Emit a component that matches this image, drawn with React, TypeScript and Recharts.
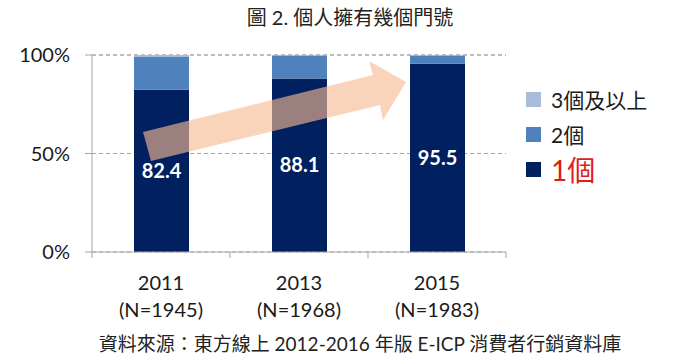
import { Bar, BarChart, CartesianGrid, LabelList, Legend, XAxis, YAxis } from "recharts";

const years = ["2011", "2013", "2015"];
const samples = ["(N=1945)", "(N=1968)", "(N=1983)"];
const oneNumber = [82.4, 88.1, 95.5];
const twoNumbers = [16.9, 11.6, 4.3];
const threePlus = [0.7, 0.3, 0.2];
const yTicks = [0, 50, 100];

const W = 700;
const H = 363;
const xAxisHeight = 60;
const margin = { top: 55, right: 24, bottom: 51, left: 0 };
const yAxisWidth = 92;
const legendWidth = 170;
const plotBottom = H - margin.bottom - xAxisHeight;
const bandWidth = (W - yAxisWidth - margin.right - legendWidth) / years.length;

const font = "Lato, 'Noto Sans CJK TC', sans-serif";
const axisColor = "#a6a6a6";
const colors = { one: "#002060", two: "#4f81bd", three: "#a9bcdb" };

const data = years.map((year, i) => ({
  year,
  n: samples[i],
  one: oneNumber[i],
  two: twoNumbers[i],
  three: threePlus[i],
}));

const legendItems = [
  { key: "three", label: "3個及以上", color: colors.three, text: "#1a1a1a", size: 21 },
  { key: "two", label: "2個", color: colors.two, text: "#1a1a1a", size: 21 },
  { key: "one", label: "1個", color: colors.one, text: "#e31b1b", size: 28 },
];

function YearTick(props: any) {
  const { x, index, payload } = props;
  const i = index ?? years.indexOf(payload.value);
  const left = x - bandWidth / 2;
  return (
    <g>
      <line x1={left} x2={left} y1={plotBottom} y2={plotBottom + 6} stroke={axisColor} />
      {i === years.length - 1 && (
        <line x1={x + bandWidth / 2} x2={x + bandWidth / 2} y1={plotBottom} y2={plotBottom + 6} stroke={axisColor} />
      )}
      <text x={x} y={plotBottom + 38} textAnchor="middle" fontSize={20} fill="#1a1a1a" fontFamily={font}>
        {payload.value}
      </text>
      <text x={x} y={plotBottom + 65} textAnchor="middle" fontSize={20} fill="#1a1a1a" fontFamily={font}>
        {samples[i]}
      </text>
    </g>
  );
}

function LegendBox() {
  return (
    <div style={{ paddingLeft: 20, fontFamily: font }}>
      {legendItems.map((item) => (
        <div key={item.key} style={{ height: 35, display: "flex", alignItems: "center" }}>
          <span style={{ width: 15, height: 15, background: item.color, marginRight: 10, flex: "none" }} />
          <span style={{ fontSize: item.size, color: item.text, lineHeight: 1 }}>{item.label}</span>
        </div>
      ))}
    </div>
  );
}

export default function App() {
  return (
    <div style={{ position: "relative", width: W, height: H, background: "#fff", fontFamily: font }}>
      <style>{`body{margin:0}`}</style>
      <div
        style={{
          position: "absolute",
          top: 4,
          left: 0,
          width: W,
          textAlign: "center",
          fontSize: 20,
          lineHeight: "26px",
          color: "#222",
        }}
      >
        圖 2. 個人擁有幾個門號
      </div>
      <BarChart width={W} height={H} data={data} margin={margin} barSize={55}>
        <CartesianGrid vertical={false} stroke={axisColor} strokeDasharray="4 3" />
        <XAxis
          dataKey="year"
          axisLine={{ stroke: axisColor }}
          tickLine={false}
          tick={<YearTick />}
          height={xAxisHeight}
          interval={0}
        />
        <YAxis
          domain={[0, 100]}
          ticks={yTicks}
          width={yAxisWidth}
          axisLine={{ stroke: axisColor }}
          tickLine={{ stroke: axisColor }}
          tickSize={7}
          tickMargin={15}
          tickFormatter={(v) => `${v}%`}
          tick={{ fontSize: 20, fill: "#1a1a1a", fontFamily: font }}
        />
        <Legend
          layout="vertical"
          align="right"
          verticalAlign="middle"
          width={legendWidth}
          content={<LegendBox />}
          wrapperStyle={{ top: 82, left: W - margin.right - legendWidth, right: "auto", width: legendWidth }}
        />
        <Bar dataKey="one" stackId="a" fill={colors.one} isAnimationActive={false}>
          <LabelList
            dataKey="one"
            position="center"
            formatter={(v: any) => Number(v).toFixed(1)}
            fill="#fff"
            fontSize={20}
            fontWeight="bold"
            fontFamily={font}
          />
        </Bar>
        <Bar dataKey="two" stackId="a" fill={colors.two} isAnimationActive={false} />
        <Bar dataKey="three" stackId="a" fill={colors.three} isAnimationActive={false} />
      </BarChart>
      {/* trend arrow drawn over the bars */}
      <svg width={W} height={H} style={{ position: "absolute", left: 0, top: 0, pointerEvents: "none" }}>
        <polygon
          points="143,132 373,75 369,61 406,82 383,120 380,105 151,161"
          fill="rgb(247,185,147)"
          fillOpacity={0.63}
        />
      </svg>
      <div
        style={{
          position: "absolute",
          top: 332,
          left: 10,
          width: W,
          textAlign: "center",
          fontSize: 19,
          lineHeight: "24px",
          color: "#222",
        }}
      >
        資料來源：東方線上 2012-2016 年版 E-ICP 消費者行銷資料庫
      </div>
    </div>
  );
}
